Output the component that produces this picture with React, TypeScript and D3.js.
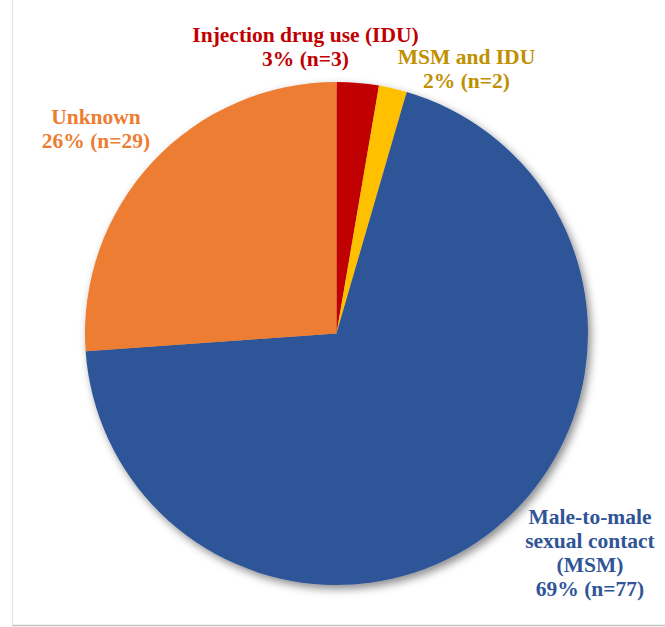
import React, { useMemo } from "react";
import * as d3 from "d3";

const categories = ["Injection drug use (IDU)", "MSM and IDU", "Male-to-male sexual contact (MSM)", "Unknown"];
const counts = [3, 2, 77, 29];
const percents = [3, 2, 69, 26];
const labelLines = [
  ["Injection drug use (IDU)"],
  ["MSM and IDU"],
  ["Male-to-male", "sexual contact", "(MSM)"],
  ["Unknown"],
];
const sliceColors = ["#C00000", "#FFC000", "#2F5597", "#ED7D31"];
const labelColors = ["#C00000", "#BF9000", "#2F5597", "#ED7D31"];

// label anchor (first baseline) offsets from pie centre
const labelOffsets: [number, number][] = [
  [-31, -291.5],
  [130, -269.5],
  [253.5, 190.8],
  [-240.5, -209.2],
];

const W = 665;
const H = 627;
const cx = 336.5;
const cy = 333.5;
const R = 251.5;
const LINE = 23.8;
const FONT = 21.5;

export default function App() {
  const arcs = useMemo(() => {
    const pie = d3
      .pie<number>()
      .sort(null)
      .value((d) => d)
      .startAngle(0)
      .endAngle(2 * Math.PI);
    return pie(counts);
  }, []);
  const arcGen = d3.arc<d3.PieArcDatum<number>>().innerRadius(0).outerRadius(R);

  return (
    <svg
      width={W}
      height={H}
      style={{ position: "absolute", left: 0, top: 0, background: "#fff" }}
      fontFamily="'Liberation Serif', 'Times New Roman', serif"
    >
      <defs>
        <filter id="shadow" x="-20%" y="-20%" width="140%" height="140%">
          <feDropShadow dx="3" dy="4" stdDeviation="4" floodColor="#000" floodOpacity="0.45" />
        </filter>
      </defs>
      <rect x={0} y={0} width={W} height={H} fill="#fff" />
      <line x1={12.5} y1={0} x2={12.5} y2={626} stroke="#e3e3e3" strokeWidth={1} />
      <line x1={12} y1={625.5} x2={W} y2={625.5} stroke="#c4c4c4" strokeWidth={1.5} />
      <g transform={`translate(${cx},${cy})`} filter="url(#shadow)">
        {arcs.map((a, i) => (
          <path key={categories[i]} d={arcGen(a) || ""} fill={sliceColors[i]} />
        ))}
      </g>
      {categories.map((c, i) => {
        const [dx, dy] = labelOffsets[i];
        const lines = [...labelLines[i], `${percents[i]}% (n=${counts[i]})`];
        return (
          <text
            key={c}
            x={cx + dx}
            y={cy + dy}
            textAnchor="middle"
            fontWeight="bold"
            fontSize={FONT}
            fill={labelColors[i]}
          >
            {lines.map((l, j) => (
              <tspan key={j} x={cx + dx} dy={j === 0 ? 0 : LINE}>
                {l}
              </tspan>
            ))}
          </text>
        );
      })}
    </svg>
  );
}
